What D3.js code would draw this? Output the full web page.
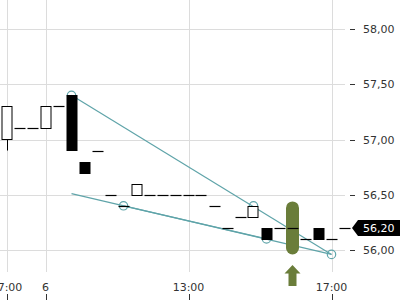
<!DOCTYPE html>
<html>
<head>
<meta charset="utf-8">
<script src="https://cdn.jsdelivr.net/npm/d3@7"></script>
<style>
  body { margin: 0; background: #fff; }
  svg { display: block; font-family: "DejaVu Sans", sans-serif; }
</style>
</head>
<body>
<div id="chart"></div>
<script>
// candles, one per bar
var opens  = [57.00, 57.10, 57.10, 57.10, 57.30, 57.40, 56.80, 56.90, 56.50, 56.40, 56.50, 56.50, 56.50, 56.50, 56.50, 56.50, 56.40, 56.20, 56.30, 56.30, 56.20, 56.20, 56.20, 56.10, 56.20, 56.10, 56.20];
var closes = [57.30, 57.10, 57.10, 57.30, 57.30, 56.90, 56.70, 56.90, 56.50, 56.40, 56.60, 56.50, 56.50, 56.50, 56.50, 56.50, 56.40, 56.20, 56.30, 56.40, 56.10, 56.20, 56.20, 56.10, 56.10, 56.10, 56.20];
var highs  = [57.30, 57.10, 57.10, 57.30, 57.30, 57.40, 56.80, 56.90, 56.50, 56.40, 56.60, 56.50, 56.50, 56.50, 56.50, 56.50, 56.40, 56.20, 56.30, 56.40, 56.20, 56.20, 56.20, 56.10, 56.20, 56.10, 56.20];
var lows   = [56.90, 57.10, 57.10, 57.10, 57.30, 56.90, 56.70, 56.90, 56.50, 56.40, 56.50, 56.50, 56.50, 56.50, 56.50, 56.50, 56.40, 56.20, 56.30, 56.30, 56.10, 56.20, 56.20, 56.10, 56.10, 56.10, 56.20];

var priceTicks = [56.00, 56.50, 57.00, 57.50, 58.00];
var timeTickIdx = [0, 3, 14, 25];
var timeTickLabels = ["17:00", "6", "13:00", "17:00"];
var lastPrice = 56.20;

// trend lines as [index, price] pairs
var trendLines = [
    [[5, 57.40], [25, 55.96]],
    [[5, 56.51], [25, 55.96]],
    [[9, 56.40], [20, 56.10]]
];
var trendPoints = [[5, 57.40], [19, 56.40], [25, 55.96], [9, 56.40], [20, 56.10]];

// buy signal marker
var signalIdx = 22;
var signalRange = [55.96, 56.44];

var W = 400, H = 300;
var teal = "#5fa4a9", olive = "#6a7d3a";
var fmt = function (v) { return d3.format(".2f")(v).replace(".", ","); };

var svg = d3.select("#chart").append("svg")
    .attr("width", W)
    .attr("height", H);

var x = d3.scaleLinear().domain([0, opens.length - 1]).range([6.5, 6.5 + 13 * (opens.length - 1)]);
var y = d3.scaleLinear().domain([56, 58]).range([250, 29]);
var plotRight = 345, plotBottom = 272;

// grid
svg.append("g").selectAll("line")
    .data(priceTicks)
    .enter().append("line")
    .attr("x1", 0).attr("x2", plotRight)
    .attr("y1", function (d) { return Math.round(y(d)) + 0.5; })
    .attr("y2", function (d) { return Math.round(y(d)) + 0.5; })
    .style("stroke", "#dcdcdc");

svg.append("g").selectAll("line")
    .data(timeTickIdx)
    .enter().append("line")
    .attr("x1", function (d) { return Math.round(x(d)) + 0.5; })
    .attr("x2", function (d) { return Math.round(x(d)) + 0.5; })
    .attr("y1", 0).attr("y2", plotBottom)
    .style("stroke", "#dcdcdc");

// trend lines + circles (under candles)
svg.append("g").selectAll("line")
    .data(trendLines)
    .enter().append("line")
    .attr("x1", function (d) { return x(d[0][0]); })
    .attr("y1", function (d) { return y(d[0][1]); })
    .attr("x2", function (d) { return x(d[1][0]); })
    .attr("y2", function (d) { return y(d[1][1]); })
    .style("stroke", teal)
    .style("stroke-width", 1.2);

svg.append("g").selectAll("circle")
    .data(trendPoints)
    .enter().append("circle")
    .attr("cx", function (d) { return x(d[0]); })
    .attr("cy", function (d) { return y(d[1]); })
    .attr("r", 4.2)
    .style("fill", "none")
    .style("stroke", teal)
    .style("stroke-width", 1.2);

// signal pill
svg.append("rect")
    .attr("x", x(signalIdx) - 6.5)
    .attr("y", y(signalRange[1]))
    .attr("width", 13)
    .attr("height", y(signalRange[0]) - y(signalRange[1]))
    .attr("rx", 6.5)
    .style("fill", olive);

// signal arrow below plot
var ax = x(signalIdx);
svg.append("path")
    .attr("d", "M" + ax + ",265 L" + (ax + 8) + ",273.5 L" + (ax + 4) + ",273.5 L" + (ax + 4) + ",286 L" + (ax - 4) + ",286 L" + (ax - 4) + ",273.5 L" + (ax - 8) + ",273.5 Z")
    .style("fill", olive);

// candles
var idx = d3.range(opens.length);
var candles = svg.append("g").selectAll("g")
    .data(idx)
    .enter().append("g");

candles.filter(function (i) { return highs[i] > Math.max(opens[i], closes[i]) || lows[i] < Math.min(opens[i], closes[i]); })
    .append("line")
    .attr("x1", function (i) { return Math.round(x(i)) + 0.5; })
    .attr("x2", function (i) { return Math.round(x(i)) + 0.5; })
    .attr("y1", function (i) { return y(highs[i]); })
    .attr("y2", function (i) { return y(lows[i]); })
    .style("stroke", "#000");

candles.filter(function (i) { return opens[i] !== closes[i]; })
    .append("rect")
    .attr("x", function (i) { return Math.round(x(i)) - 5; })
    .attr("y", function (i) { return Math.round(y(Math.max(opens[i], closes[i]))) + 0.5; })
    .attr("width", 10)
    .attr("height", function (i) { return Math.round(Math.abs(y(opens[i]) - y(closes[i]))); })
    .style("fill", function (i) { return closes[i] > opens[i] ? "#fff" : "#000"; })
    .style("stroke", "#000");

candles.filter(function (i) { return opens[i] === closes[i]; })
    .append("line")
    .attr("x1", function (i) { return Math.round(x(i)) - 5.5; })
    .attr("x2", function (i) { return Math.round(x(i)) + 5.5; })
    .attr("y1", function (i) { return Math.round(y(opens[i])) + 0.5; })
    .attr("y2", function (i) { return Math.round(y(opens[i])) + 0.5; })
    .style("stroke", "#000")
    .style("stroke-width", 1.2);

// right price axis
var yAxis = svg.append("g");
yAxis.selectAll("line")
    .data(priceTicks)
    .enter().append("line")
    .attr("x1", 350).attr("x2", 355)
    .attr("y1", function (d) { return Math.round(y(d)) + 0.5; })
    .attr("y2", function (d) { return Math.round(y(d)) + 0.5; })
    .style("stroke", "#333");
yAxis.selectAll("text")
    .data(priceTicks)
    .enter().append("text")
    .attr("x", 363)
    .attr("y", function (d) { return y(d) + 4; })
    .style("font-size", "11px")
    .style("fill", "#333")
    .text(fmt);

// last price tag
var ly = y(lastPrice);
svg.append("path")
    .attr("d", "M352," + ly + " L358," + (ly - 8) + " L400," + (ly - 8) + " L400," + (ly + 8) + " L358," + (ly + 8) + " Z")
    .style("fill", "#000");
svg.append("text")
    .attr("x", 363)
    .attr("y", ly + 4)
    .style("font-size", "11px")
    .style("fill", "#fff")
    .text(fmt(lastPrice));

// bottom time axis
var xAxis = svg.append("g");
xAxis.selectAll("line")
    .data(timeTickIdx)
    .enter().append("line")
    .attr("x1", function (d) { return Math.round(x(d)) + 0.5; })
    .attr("x2", function (d) { return Math.round(x(d)) + 0.5; })
    .attr("y1", 294).attr("y2", 300)
    .style("stroke", "#333");
xAxis.selectAll("text")
    .data(timeTickIdx)
    .enter().append("text")
    .attr("x", function (d) { return x(d); })
    .attr("y", 291)
    .attr("text-anchor", "middle")
    .style("font-size", "11px")
    .style("fill", "#333")
    .text(function (d, i) { return timeTickLabels[i]; });
</script>
</body>
</html>
